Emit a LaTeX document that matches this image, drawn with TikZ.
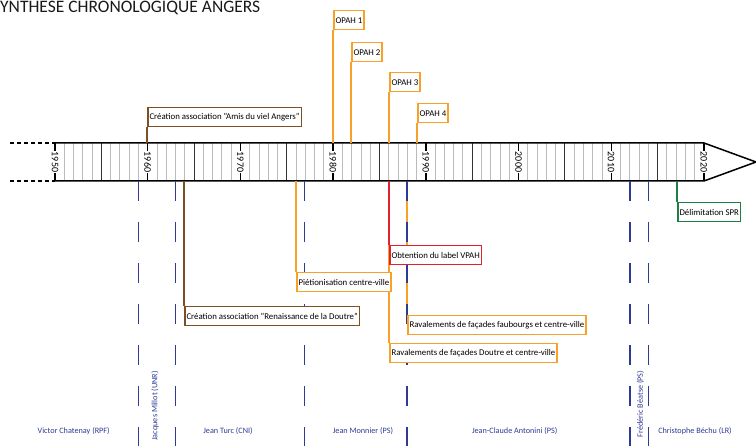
\documentclass[tikz,border=0pt]{standalone}
\usepackage{fontspec}
\setmainfont{Carlito}
\definecolor{orng}{HTML}{F7A129}
\definecolor{brn}{HTML}{7F4F24}
\definecolor{redv}{HTML}{E2202F}
\definecolor{grn}{HTML}{1B7F46}
\definecolor{blu}{HTML}{2E3A94}
\definecolor{tickgray}{HTML}{BBBBBB}
\begin{document}
\begin{tikzpicture}[x=1pt,y=-1pt,
  evbox/.style={draw=#1, line width=1.5pt, fill=white, anchor=north west,
    minimum height=19pt, inner xsep=1.8pt, inner ysep=0pt,
    font=\fontsize{8.8}{10}\selectfont, text=black},
  evline/.style={draw=#1, line width=1.4pt},
  mayorline/.style={draw=blu, line width=1.4pt, dash pattern=on 20pt off 21pt},
  mname/.style={text=blu, font=\fontsize{8.2}{9}\selectfont, inner sep=0pt},
  yearlabel/.style={fill=white, rotate=-90, inner sep=0.6pt, font=\fontsize{10}{10}\selectfont},
  bar/.style={draw=black, line width=1.5pt}]
\useasboundingbox (0,0) rectangle (756,446);

% title
\node[anchor=north west, inner sep=0pt, font=\fontsize{17.5}{19}\selectfont, text=black!90] (title) at (0,0.5) {YNTHESE CHRONOLOGIQUE ANGERS};

% reference coordinates
\coordinate (bartop) at (0,143);
\coordinate (barbot) at (0,181);
\coordinate (bottom) at (0,446);

% yearly ticks
\foreach \i in {0,...,70}{
  \pgfmathsetmacro\xx{55+\i*9.27}
  \draw[tickgray, line width=0.8pt] (\xx,143) -- (\xx,181);
}
\foreach \i in {5,15,...,65}{
  \pgfmathsetmacro\xx{55+\i*9.27}
  \draw[black!80, line width=0.8pt] (\xx,143) -- (\xx,181);
}
% outline of the arrow
\draw[bar] (55,143) -- (704,143) -- (756,162) -- (704,181) -- (55,181) -- cycle;
\draw[black, line width=1.2pt, dash pattern=on 4pt off 3pt] (10,143) -- (55,143);
\draw[black, line width=1.2pt, dash pattern=on 4pt off 3pt] (10,181) -- (55,181);
% decades
\foreach \d [count=\k from 0] in {1950,1960,1970,1980,1990,2000,2010,2020}{
  \pgfmathsetmacro\xx{55+\k*92.7}
  \draw[black, line width=1.4pt] (\xx,143) -- (\xx,181);
  \node[yearlabel] (d\d) at (\xx,162) {\d};
}

% events above the timeline
\node[evbox=brn] (amis) at (147,107) {Création association "Amis du viel Angers"};
\draw[evline=brn] (amis.south west) -- (amis.south west |- bartop);
\node[evbox=orng] (opah1) at (333,10) {OPAH 1};
\draw[evline=orng] (opah1.south west) -- (opah1.south west |- bartop);
\node[evbox=orng] (opah2) at (351,42) {OPAH 2};
\draw[evline=orng] (opah2.south west) -- (opah2.south west |- bartop);
\node[evbox=orng] (opah3) at (389,72) {OPAH 3};
\draw[evline=orng] (opah3.south west) -- (opah3.south west |- bartop);
\node[evbox=orng] (opah4) at (417,103) {OPAH 4};
\draw[evline=orng] (opah4.south west) -- (opah4.south west |- bartop);

% events below the timeline: connectors first
\coordinate (espr) at (677,202);
\coordinate (evpah) at (389,245);
\coordinate (epieton) at (296,272);
\coordinate (erenais) at (184,306);
\coordinate (eravf) at (407,315);
\coordinate (eravd) at (389,343);
\draw[evline=orng] (eravd |- barbot) -- (eravd);
\draw[evline=orng] (eravf |- barbot) -- (eravf);
\draw[evline=orng] (epieton |- barbot) -- (epieton);
\draw[evline=brn] (erenais |- barbot) -- (erenais);
\draw[evline=redv] (evpah |- barbot) -- (evpah);
\draw[evline=grn] (espr |- barbot) -- (espr);

% mayors' terms
\foreach \m/\xx in {m1/138.3, m2/175.7, m3/304.3, m4/407, m5/630, m6/648.3}{
  \coordinate (\m) at (\xx,181);
  \draw[mayorline] (\m) -- (\m |- bottom);
}

% boxes below
\node[evbox=grn] (spr) at (espr) {Délimitation SPR};
\node[evbox=redv] (vpah) at (evpah) {Obtention du label VPAH};
\node[evbox=orng] (pieton) at (epieton) {Piétionisation centre-ville};
\node[evbox=brn] (renais) at (erenais) {Création association "Renaissance de la Doutre"};
\node[evbox=orng] (ravf) at (eravf) {Ravalements de façades faubourgs et centre-ville};
\node[evbox=orng] (ravd) at (eravd) {Ravalements de façades Doutre et centre-ville};

% mayors' names
\node[mname] (chatenay) at (73.7,431) {Victor Chatenay (RPF)};
\node[mname, rotate=90] (millot) at (155,406) {Jacques Millot (UNR)};
\node[mname] (turc) at (228,431) {Jean Turc (CNI)};
\node[mname] (monnier) at (363,431) {Jean Monnier (PS)};
\node[mname] (antonini) at (514.7,431) {Jean-Claude Antonini (PS)};
\node[mname, rotate=90] (beatse) at (640.5,404) {Frédéric Béatse (PS)};
\node[mname] (bechu) at (695,431) {Christophe Béchu (LR)};
\end{tikzpicture}
\end{document}
